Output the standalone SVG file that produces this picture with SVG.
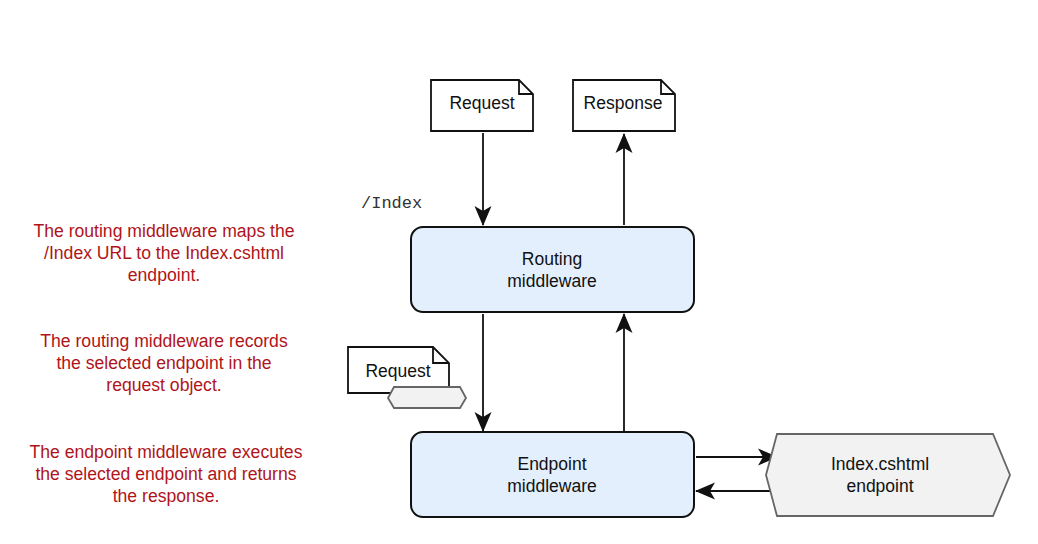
<svg xmlns="http://www.w3.org/2000/svg" width="1038" height="544" viewBox="0 0 1038 544">
<style>
.t{font-family:"Liberation Sans",Arial,sans-serif;font-size:17.5px;fill:#111;text-anchor:middle}
.red{font-family:"Liberation Sans",Arial,sans-serif;font-size:17.6px;fill:#b0141a;text-anchor:middle}
.mono{font-family:"Liberation Mono","Courier New",monospace;font-size:17px;fill:#333}
.doc{fill:#fff;stroke:#111;stroke-width:1.8}
.mw{fill:#e3effd;stroke:#111;stroke-width:2}
.hex{fill:#f2f2f2;stroke:#666;stroke-width:1.8}
.c{stroke:#111;stroke-width:1.8;fill:none}
</style>
<defs>
<marker id="a" viewBox="0 0 20 18" markerWidth="20" markerHeight="18" refX="19" refY="9" orient="auto" markerUnits="userSpaceOnUse" overflow="visible">
<path d="M0,0.5 L20,9 L0,17.5 L5,9 Z" fill="#111"/>
</marker>
</defs>
<g id="connectors">
<line class="c" x1="483" y1="133" x2="483" y2="225" marker-end="url(#a)"/>
<line class="c" x1="624" y1="225" x2="624" y2="134" marker-end="url(#a)"/>
<line class="c" x1="483" y1="314" x2="483" y2="431" marker-end="url(#a)"/>
<line class="c" x1="624" y1="431" x2="624" y2="314" marker-end="url(#a)"/>
<line class="c" x1="696" y1="457" x2="777" y2="457" marker-end="url(#a)"/>
<line class="c" x1="774" y1="491" x2="696" y2="491" marker-end="url(#a)"/>
</g>
<g id="request">
<path class="doc" d="M431,80 H519 L533,94 V131 H431 Z M519,80 V94 H533"/>
<text class="t" x="482" y="109">Request</text>
</g>
<g id="response">
<path class="doc" d="M573,80 H661 L675,94 V131 H573 Z M661,80 V94 H675"/>
<text class="t" x="623" y="109">Response</text>
</g>
<text class="mono" x="361" y="208">/Index</text>
<g id="routing">
<rect class="mw" x="411" y="227" width="283" height="85" rx="12"/>
<text class="t" x="552" y="265">Routing</text>
<text class="t" x="552" y="287">middleware</text>
</g>
<g id="endpoint-mw">
<rect class="mw" x="411" y="432" width="283" height="85" rx="12"/>
<text class="t" x="552" y="470">Endpoint</text>
<text class="t" x="552" y="492">middleware</text>
</g>
<g id="request2">
<path class="doc" d="M348,347 H433 L449,363 V393 H348 Z M433,347 V363 H449"/>
<text class="t" x="398" y="377">Request</text>
<path class="hex" d="M394,387 H460 L466,398 L460,408 H394 L388,398 Z"/>
</g>
<g id="index-endpoint">
<path class="hex" d="M777,434 H993 L1010,475 L993,516 H777 L766,475 Z"/>
<text class="t" x="880" y="470">Index.cshtml</text>
<text class="t" x="880" y="492">endpoint</text>
</g>
<g id="notes">
<text class="red" x="164" y="237">The routing middleware maps the</text>
<text class="red" x="164" y="259">/Index URL to the Index.cshtml</text>
<text class="red" x="164" y="281">endpoint.</text>
<text class="red" x="164" y="347">The routing middleware records</text>
<text class="red" x="164" y="369">the selected endpoint in the</text>
<text class="red" x="164" y="391">request object.</text>
<text class="red" x="166" y="458">The endpoint middleware executes</text>
<text class="red" x="166" y="480">the selected endpoint and returns</text>
<text class="red" x="166" y="502">the response.</text>
</g>
</svg>
